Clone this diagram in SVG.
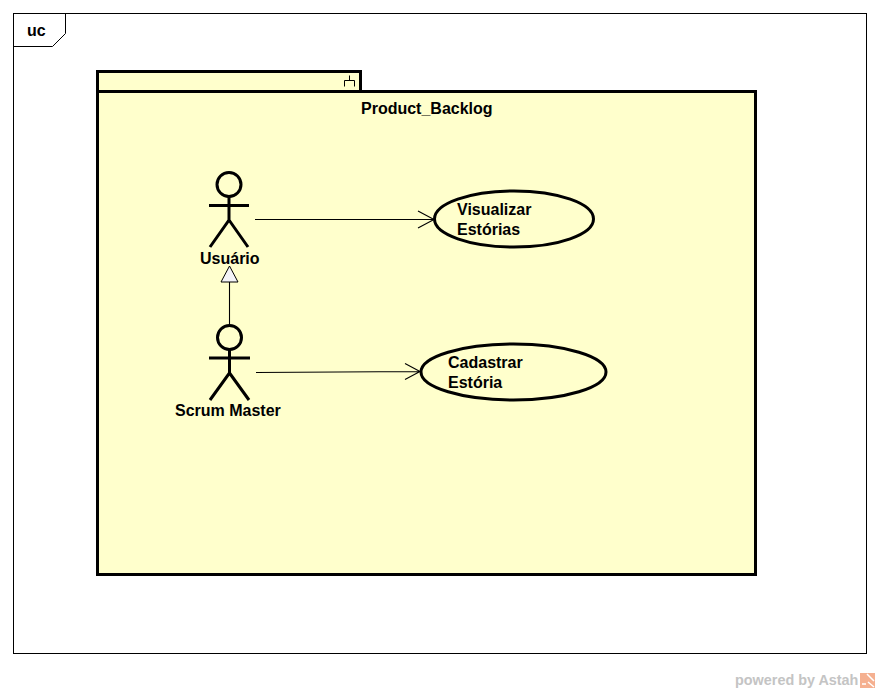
<svg xmlns="http://www.w3.org/2000/svg" width="880" height="693" viewBox="0 0 880 693">
<style>
text{font-family:"Liberation Sans",Arial,sans-serif;font-size:16px;font-weight:bold;fill:#000}
.b{fill:none;stroke:#000;stroke-width:3}
.p{fill:#ffffcc;stroke:#000;stroke-width:3}
.a{fill:none;stroke:#000;stroke-width:3;stroke-linecap:butt}
.c{fill:none;stroke:#000;stroke-width:1.1}
</style>
<rect width="880" height="693" fill="#fff"/>
<g id="frame">
<rect x="13.5" y="13.5" width="853" height="640" fill="#fff" stroke="#000" stroke-width="1"/>
<path d="M13.5 46.500H52.500L65.500 33.500V13.500" fill="none" stroke="#000" stroke-width="1"/>
<text x="27" y="36">uc</text>
</g>
<g id="package">
<rect class="p" x="97.500" y="71.500" width="263" height="20"/>
<rect class="p" x="97.500" y="91.500" width="658" height="483"/>
<path d="M344.500 86.500V80.500H354.500V86.500M349.500 80.500V75.500" fill="none" stroke="#000" stroke-width="1"/>
<text x="361" y="114">Product_Backlog</text>
</g>
<g id="connectors">
<path class="c" d="M255 219.500H434M418 211L434 219.500L418 228"/>
<path class="c" d="M256 372.500L420 371.500M405 363.500L420 371.500L405 379.500"/>
<path class="c" d="M229.500 325V282"/>
<path d="M229.500 266L221 282H238Z" fill="#f4f4f8" stroke="#000" stroke-width="1"/>
</g>
<g id="actor-usuario">
<circle class="b" cx="229" cy="184.500" r="12"/>
<path class="a" d="M229 197V220L210 247M229 220L248 247M209 205.500H249"/>
<text x="200" y="264">Usuário</text>
</g>
<g id="actor-scrum-master">
<circle class="b" cx="229.500" cy="337.500" r="12"/>
<path class="a" d="M229.500 350V373L210 400M229.500 373L249 400M209 358H250"/>
<text x="175" y="416">Scrum Master</text>
</g>
<g id="uc-visualizar">
<ellipse class="p" cx="514" cy="219" rx="79.500" ry="28"/>
<text x="457" y="215">Visualizar</text>
<text x="457" y="235">Estórias</text>
</g>
<g id="uc-cadastrar">
<ellipse class="p" cx="513.500" cy="372" rx="92.500" ry="28"/>
<text x="448" y="368">Cadastrar</text>
<text x="448" y="388">Estória</text>
</g>
<g id="watermark">
<text x="735" y="685" style="fill:#c4c4c4;font-size:14.400px">powered by Astah</text>
<rect x="860" y="673" width="15" height="15" fill="#f5b090"/>
<path d="M867 674L874 681M868 682L874 687M862 684h4" stroke="#fff" stroke-width="1.500" fill="none"/>
</g>
</svg>
